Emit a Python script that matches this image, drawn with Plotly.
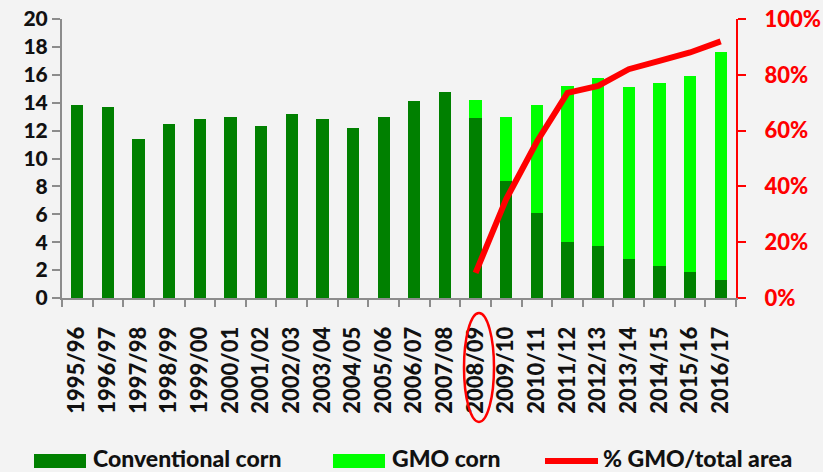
import plotly.graph_objects as go

seasons = ["1995/96", "1996/97", "1997/98", "1998/99", "1999/00", "2000/01",
           "2001/02", "2002/03", "2003/04", "2004/05", "2005/06", "2006/07",
           "2007/08", "2008/09", "2009/10", "2010/11", "2011/12", "2012/13",
           "2013/14", "2014/15", "2015/16", "2016/17"]
conventional = [13.8, 13.7, 11.4, 12.5, 12.8, 13.0, 12.3, 13.2, 12.8, 12.2, 13.0, 14.1,
                14.8, 12.9, 8.4, 6.1, 4.0, 3.7, 2.8, 2.3, 1.9, 1.3]
gmo = [0, 0, 0, 0, 0, 0, 0, 0, 0, 0, 0, 0,
       0, 1.3, 4.6, 7.7, 11.2, 12.1, 12.3, 13.1, 14.0, 16.3]
gmo_share = [None] * 13 + [0.09, 0.355, 0.56, 0.735, 0.76, 0.82, 0.85, 0.88, 0.92]

DARK = "#008000"
LIME = "#00ff00"
RED = "#ff0000"
BG = "#f3f3f3"
FONT = "Lato"
WEIGHT = 900

W, H = 823, 472
L, R, T, B = 62, 87, 19, 174
PW, PH = W - L - R, H - T - B


def px(x):
    return (x - L) / PW


def py(y):
    return (H - B - y) / PH


fig = go.Figure()
fig.add_trace(go.Bar(x=seasons, y=conventional, name="Conventional corn",
                     marker=dict(color=DARK, line=dict(width=0))))
fig.add_trace(go.Bar(x=seasons, y=gmo, name="GMO corn",
                     marker=dict(color=LIME, line=dict(width=0))))
fig.add_trace(go.Scatter(x=seasons, y=gmo_share, name="% GMO/total area", yaxis="y2",
                         mode="lines", line=dict(color=RED, width=6),
                         connectgaps=False))

shapes = [
    dict(type="rect", xref="paper", yref="paper", x0=px(34), x1=px(86), y0=py(468), y1=py(454),
         fillcolor=DARK, line=dict(width=0)),
    dict(type="rect", xref="paper", yref="paper", x0=px(333), x1=px(385), y0=py(468), y1=py(454),
         fillcolor=LIME, line=dict(width=0)),
    dict(type="line", xref="paper", yref="paper", x0=px(545), x1=px(598), y0=py(461), y1=py(461),
         line=dict(color=RED, width=6)),
    dict(type="circle", xref="paper", yref="paper", x0=px(464), x1=px(494), y0=py(313), y1=py(422),
         line=dict(color=RED, width=2.5)),
]

annotations = []
for text, xpos in [("Conventional corn", 91), ("GMO corn", 390), ("% GMO/total area", 601)]:
    annotations.append(dict(text=text, xref="paper", yref="paper", x=px(xpos), y=py(457.5),
                            xanchor="left", yanchor="middle", showarrow=False,
                            font=dict(family=FONT, size=23, color="#111111", weight=WEIGHT)))

fig.update_layout(
    width=W, height=H,
    margin=dict(l=L, r=R, t=T, b=B, autoexpand=False),
    paper_bgcolor=BG, plot_bgcolor=BG,
    barmode="stack", bargap=0.6,
    showlegend=False,
    xaxis=dict(type="category", showline=True, linecolor="#8c8c8c", linewidth=2,
               ticks="outside", tickson="boundaries", ticklen=7, tickcolor="#8c8c8c", tickwidth=2,
               tickangle=-90, ticklabelstandoff=18, automargin=False,
               tickfont=dict(family=FONT, size=22, color="#111111", weight=WEIGHT),
               showgrid=False),
    yaxis=dict(range=[0, 20], dtick=2, showline=True, linecolor="#8c8c8c", linewidth=2,
               ticks="outside", ticklen=8, tickcolor="#8c8c8c", tickwidth=2, automargin=False,
               tickfont=dict(family=FONT, size=21, color="#111111", weight=WEIGHT),
               showgrid=False, zeroline=False),
    yaxis2=dict(range=[0, 1], dtick=0.2, tickformat=".0%", overlaying="y", side="right",
                showline=True, linecolor=RED, linewidth=2, automargin=False,
                ticks="outside", ticklen=8, tickcolor=RED, tickwidth=2, ticklabelstandoff=14,
                tickfont=dict(family=FONT, size=22, color=RED, weight=WEIGHT),
                showgrid=False, zeroline=False),
    shapes=shapes,
    annotations=annotations,
)

fig.write_html("out.html", config={"displayModeBar": False},
               post_script="document.body.style.margin='0';document.body.style.overflow='hidden';")
